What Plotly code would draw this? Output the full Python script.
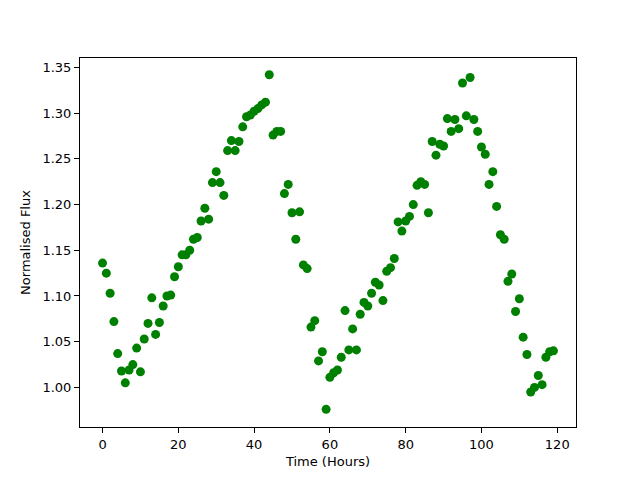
import plotly.graph_objects as go

hours = list(range(120))
flux = [
    1.136, 1.125, 1.103, 1.072, 1.037, 1.018, 1.005, 1.019, 1.025, 1.043,
    1.017, 1.053, 1.070, 1.098, 1.058, 1.071, 1.089, 1.100, 1.101, 1.121,
    1.132, 1.145, 1.145, 1.150, 1.162, 1.164, 1.182, 1.196, 1.184, 1.224,
    1.236, 1.224, 1.210, 1.259, 1.270, 1.259, 1.269, 1.285, 1.296, 1.298,
    1.302, 1.305, 1.309, 1.312, 1.342, 1.276, 1.280, 1.280, 1.212, 1.222,
    1.191, 1.162, 1.192, 1.134, 1.130, 1.066, 1.073, 1.029, 1.039, 0.976,
    1.011, 1.016, 1.019, 1.033, 1.084, 1.041, 1.064, 1.041, 1.080, 1.093,
    1.089, 1.103, 1.115, 1.112, 1.095, 1.127, 1.131, 1.141, 1.181, 1.171,
    1.182, 1.187, 1.200, 1.221, 1.225, 1.222, 1.191, 1.269, 1.254, 1.266,
    1.264, 1.294, 1.280, 1.293, 1.283, 1.333, 1.297, 1.339, 1.293, 1.280,
    1.263, 1.255, 1.222, 1.236, 1.198, 1.167, 1.162, 1.116, 1.124, 1.083,
    1.097, 1.055, 1.036, 0.995, 1.000, 1.013, 1.003, 1.033, 1.039, 1.040,
]
x_ticks = [0, 20, 40, 60, 80, 100, 120]
y_ticks = [1.00, 1.05, 1.10, 1.15, 1.20, 1.25, 1.30, 1.35]

fig = go.Figure(go.Scatter(
    x=hours, y=flux, mode="markers",
    marker=dict(color="#008000", size=9, line=dict(width=0)),
))

axis_common = dict(
    showline=True, linecolor="black", linewidth=1, mirror=True,
    ticks="outside", ticklen=5, tickwidth=1, tickcolor="black",
    showgrid=False, zeroline=False, automargin=False,
    tickfont=dict(family="DejaVu Sans", size=13, color="black"),
)
fig.update_xaxes(range=[-5.95, 124.95], tickvals=x_ticks,
                 title=dict(text="Time (Hours)", font=dict(family="DejaVu Sans", size=13, color="black"), standoff=6),
                 **axis_common)
fig.update_yaxes(range=[0.9567, 1.3603], tickvals=y_ticks, tickformat=".2f",
                 title=dict(text="Normalised Flux", font=dict(family="DejaVu Sans", size=13, color="black"), standoff=8),
                 **axis_common)
fig.update_layout(
    width=640, height=480,
    margin=dict(l=72, r=72, t=50, b=61),
    plot_bgcolor="white", paper_bgcolor="white",
    showlegend=False,
)
fig.write_html("out.html")
